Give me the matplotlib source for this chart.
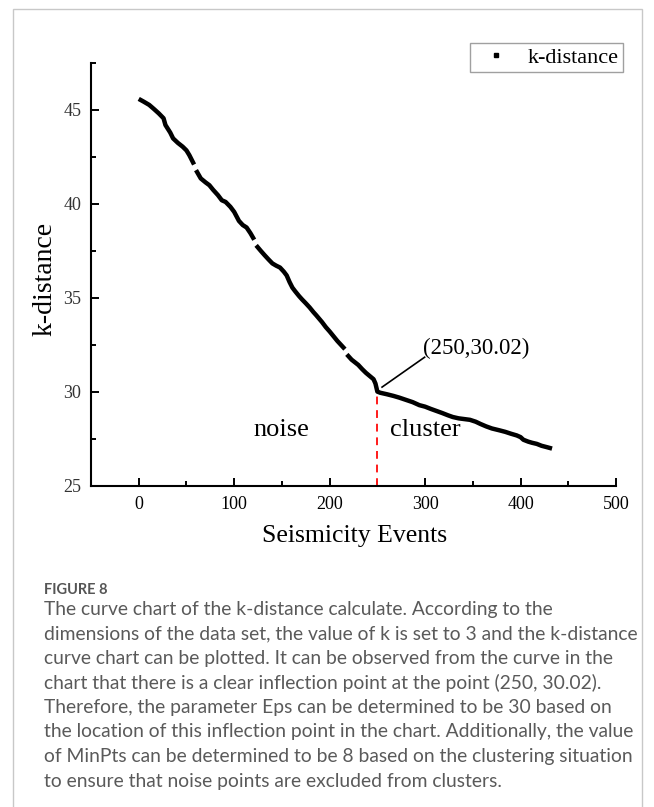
import numpy as np
import matplotlib
matplotlib.use('Agg')
import matplotlib.pyplot as plt
from matplotlib.lines import Line2D
from matplotlib.patches import Rectangle

# k-distance curve (NaN = small visible gaps)
events = [0, 5, 11, 16, 21, 26, 28, 33, 36, 41, 46, 50, 53, 58, np.nan,
          60, 65, 70, 74, 78, 83, 87, 91, 96, 100, 105, 109, 113, 117, 121, np.nan,
          123, 128, 132, 136, 140, 144, 148, 152, 155, 158, 161, 164, 168, 171,
          175, 179, 183, 186, 189, 192, 196, 200, 204, 208, 212, 216, np.nan,
          218, 223, 226, 230, 234, 238, 242, 246, 248, 250, 253, 260, 267, 273,
          280, 287, 294, 300, 306, 312, 318, 324, 329, 335, 341, 347, 353, 358,
          364, 370, 378, 384, 390, 396, 400, 403, 408, 412, 417, 422, 428, 433]
kdist = [45.59, 45.45, 45.27, 45.05, 44.82, 44.56, 44.20, 43.80, 43.49, 43.25, 43.05, 42.85, 42.60, 42.10, np.nan,
         41.80, 41.36, 41.15, 41.00, 40.75, 40.47, 40.20, 40.11, 39.85, 39.58, 39.10, 38.88, 38.75, 38.45, 38.10, np.nan,
         37.80, 37.50, 37.27, 37.05, 36.84, 36.72, 36.62, 36.40, 36.20, 35.85, 35.55, 35.35, 35.10, 34.93,
         34.72, 34.50, 34.25, 34.08, 33.90, 33.72, 33.45, 33.22, 32.97, 32.72, 32.50, 32.28, np.nan,
         32.00, 31.72, 31.60, 31.44, 31.22, 31.02, 30.85, 30.68, 30.45, 30.02, 29.96, 29.88, 29.79, 29.70,
         29.58, 29.46, 29.30, 29.22, 29.10, 28.99, 28.88, 28.76, 28.67, 28.60, 28.56, 28.52, 28.42, 28.30,
         28.17, 28.06, 27.96, 27.88, 27.78, 27.69, 27.60, 27.46, 27.36, 27.30, 27.24, 27.14, 27.06, 26.99]

knee_x, knee_y = 250, 30.02
x_ticks = [0, 100, 200, 300, 400, 500]
y_ticks = [25, 30, 35, 40, 45]

caption_title = "FIGURE 8"
caption_lines = [
    "The curve chart of the k-distance calculate. According to the",
    "dimensions of the data set, the value of k is set to 3 and the k-distance",
    "curve chart can be plotted. It can be observed from the curve in the",
    "chart that there is a clear inflection point at the point (250, 30.02).",
    "Therefore, the parameter Eps can be determined to be 30 based on",
    "the location of this inflection point in the chart. Additionally, the value",
    "of MinPts can be determined to be 8 based on the clustering situation",
    "to ensure that noise points are excluded from clusters.",
]

plt.rcParams['font.family'] = ['Liberation Serif', 'DejaVu Serif']

W, H = 654, 807
fig = plt.figure(figsize=(W / 100, H / 100), dpi=100)

# outer frame of the figure panel
fig.patches.append(Rectangle((12.5 / W, -0.02), 629 / W, 1 - 9 / H + 0.02,
                             transform=fig.transFigure, fill=False,
                             edgecolor='#c8c8c8', linewidth=1.0))

ax = fig.add_axes([91 / W, 1 - 486 / H, 525 / W, 423 / H])
ax.plot(events, kdist, color='black', linewidth=3.2, solid_capstyle='butt')
ax.plot([knee_x, knee_x], [25, knee_y], color='#ff1a1a', linestyle=(0, (4, 3)),
        linewidth=1.4)

ax.set_xlim(-50, 500)
ax.set_ylim(25, 47.5)
for s in ['top', 'right']:
    ax.spines[s].set_visible(False)
for s in ['left', 'bottom']:
    ax.spines[s].set_linewidth(1.5)

ax.set_xticks(x_ticks)
ax.set_xticks([50, 150, 250, 350, 450], minor=True)
ax.set_yticks(y_ticks)
ax.set_yticks([27.5, 32.5, 37.5, 42.5, 47.5], minor=True)
ax.tick_params(which='major', direction='in', length=6, width=1.4)
ax.tick_params(which='minor', direction='in', length=3.5, width=1.4)
ax.tick_params(axis='x', which='major', pad=7, labelsize=13)
ax.tick_params(axis='y', which='major', pad=7, labelsize=13, labelcolor='#333333')

# annotations
ax.plot([254.9, 299.5], [30.26, 31.85], color='black', linewidth=1.2)
ax.text(297.4, 32.32, '(250,30.02)', ha='left', va='center', fontsize=16.5)
ax.text(149.5, 27.96, 'noise', ha='center', va='center', fontsize=19)
ax.text(300.4, 27.96, 'cluster', ha='center', va='center', fontsize=19)

fig.text(354.5 / W, 1 - 536 / H, 'Seismicity Events', ha='center', va='center',
         fontsize=18.5)
fig.text(45 / W, 1 - 279 / H, 'k-distance', ha='center', va='center', rotation=90,
         fontsize=20)

handle = Line2D([], [], color='black', marker='s', markersize=3, linestyle='none')
leg = ax.legend([handle], ['k-distance'], loc='upper right',
                bbox_to_anchor=(623 / W, 1 - 43 / H), bbox_transform=fig.transFigure,
                borderaxespad=0, frameon=True, fancybox=False, borderpad=0.2,
                handlelength=2.0, handletextpad=0.4, prop={'size': 16})
leg.get_frame().set_edgecolor('#888888')
leg.get_frame().set_linewidth(1.0)

# caption
cap_font = ['Lato', 'DejaVu Sans']
fig.text(44 / W, 1 - 590 / H, caption_title, ha='left', va='center', fontsize=10.5,
         color='#555555', family=cap_font, fontweight='bold')
for i, line in enumerate(caption_lines):
    fig.text(44 / W, 1 - (609.5 + 24.5 * i) / H, line, ha='left', va='center',
             fontsize=13.9, color='#5a5a5a', family=cap_font)

fig.savefig('out.png', dpi=100)
